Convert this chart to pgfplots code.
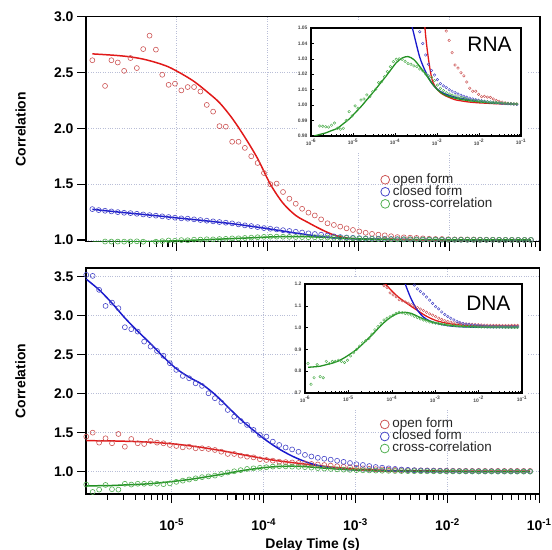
\documentclass[border=0pt]{standalone}
\usepackage{pgfplots}
\pgfplotsset{compat=1.18}
\usepackage{pgfplotstable}
\usepackage{fontspec}
\setmainfont{Liberation Sans}

\definecolor{mred}{RGB}{205,85,85}
\definecolor{mblue}{RGB}{70,70,200}
\definecolor{mgreen}{RGB}{80,175,80}
\definecolor{lred}{RGB}{225,25,25}
\definecolor{lblue}{RGB}{25,25,205}
\definecolor{lgreen}{RGB}{35,145,35}
\definecolor{gridc}{RGB}{185,190,215}

\newcommand{\tickfont}{\fontsize{14}{14}\selectfont\bfseries}
\newcommand{\labfont}{\fontsize{14}{14}\selectfont\bfseries}
\newcommand{\insetfont}{\fontsize{5}{5}\selectfont\bfseries}

% RNA data: x, open form, closed form, cross-correlation
\pgfplotstableread{
x open closed cross
1.175e-6 2.61 1.277 nan
1.380e-6 nan 1.268 nan
1.622e-6 2.38 1.262 0.9865
1.905e-6 2.61 1.256 0.9863
2.239e-6 2.59 1.250 0.986
2.630e-6 2.515 1.244 0.9858
3.090e-6 2.63 1.241 0.987
3.631e-6 2.54 1.235 0.9884
4.266e-6 2.71 1.229 0.985
5.012e-6 2.83 1.223 0.9844
5.888e-6 2.705 1.218 0.985
6.918e-6 2.48 1.212 0.990
8.128e-6 2.39 1.206 0.9958
9.550e-6 2.40 1.200 0.993
1.122e-5 2.34 1.194 0.9995
1.318e-5 2.37 1.191 0.998
1.549e-5 2.37 1.185 1.0033
1.820e-5 2.33 1.179 1.004
2.138e-5 2.21 1.173 1.0066
2.512e-5 2.15 1.167 1.0055
2.951e-5 2.02 1.161 1.0087
3.467e-5 2.015 1.155 1.0103
4.074e-5 1.88 1.149 1.0146
4.786e-5 1.88 1.140 1.0152
5.623e-5 1.825 1.131 1.0184
6.607e-5 1.75 1.125 1.0217
7.762e-5 1.69 1.116 1.025
9.120e-5 1.60 1.107 1.0282
1.072e-4 1.50 1.101 1.0297
1.259e-4 1.505 1.095 1.0300
1.479e-4 1.43 1.088 1.0297
1.738e-4 1.37 1.081 1.0284
2.042e-4 1.325 1.074 1.027
2.399e-4 1.28 1.067 1.0265
2.818e-4 1.245 1.060 1.0254
3.311e-4 1.22 1.054 1.025
3.890e-4 1.185 1.0476 1.0234
4.571e-4 1.15 1.040 1.0223
5.370e-4 1.135 1.0325 1.0202
6.310e-4 1.12 1.0265 1.019
7.413e-4 1.105 1.0225 1.018
8.710e-4 1.09 1.0195 1.0159
1.023e-3 1.077 1.0165 1.013
1.202e-3 1.065 1.014 1.0109
1.413e-3 1.055 1.0125 1.0094
1.660e-3 1.048 1.0115 1.008
1.950e-3 1.042 1.0100 1.0072
2.291e-3 1.034 1.009 1.0065
2.692e-3 1.026 1.0081 1.006
3.162e-3 1.024 1.0072 1.0053
3.715e-3 1.021 1.0064 1.005
4.365e-3 1.019 1.0057 1.0045
5.129e-3 1.015 1.0051 1.004
6.026e-3 1.011 1.0045 1.0033
7.079e-3 1.009 1.004 1.003
8.318e-3 1.009 1.0035 1.003
9.772e-3 1.007 1.0032 1.0028
1.148e-2 1.0055 1.0028 1.0025
1.349e-2 1.0057 1.0025 1.0023
1.585e-2 1.0052 1.0023 1.0022
1.862e-2 1.005 1.002 1.002
2.188e-2 1.004 1.0018 1.0018
2.570e-2 1.003 1.0016 1.0017
3.020e-2 1.0025 1.0014 1.0015
3.548e-2 1.002 1.0012 1.0014
4.169e-2 1.0015 1.001 1.0012
4.898e-2 1.0012 1.0009 1.001
5.754e-2 1.001 1.0008 1.0009
6.761e-2 1.0008 1.0006 1.0008
7.943e-2 1.0007 1.0005 1.0007
}\rna

% RNA fitted curves
\pgfplotstableread{
x open closed cross
1.175e-6 2.667 1.275 0.980
1.622e-6 2.660 1.263 0.981
2.239e-6 2.652 1.251 0.982
3.090e-6 2.640 1.240 0.9835
4.266e-6 2.620 1.229 0.985
5.888e-6 2.590 1.218 0.988
8.128e-6 2.550 1.206 0.991
1.122e-5 2.490 1.194 0.995
1.549e-5 2.420 1.183 0.999
2.138e-5 2.330 1.171 1.0035
2.951e-5 2.230 1.159 1.008
4.074e-5 2.090 1.146 1.0128
5.623e-5 1.920 1.131 1.0175
7.762e-5 1.730 1.115 1.0225
1.072e-4 1.500 1.098 1.0275
1.479e-4 1.330 1.080 1.0305
2.042e-4 1.220 1.062 1.0315
2.818e-4 1.155 1.046 1.0295
3.890e-4 1.095 1.031 1.025
5.370e-4 1.045 1.0215 1.020
7.413e-4 1.018 1.0145 1.0145
1.023e-3 1.010 1.0102 1.010
1.413e-3 1.0068 1.0078 1.0072
1.950e-3 1.005 1.0063 1.0055
2.692e-3 1.0035 1.0052 1.0045
3.715e-3 1.0028 1.0044 1.0037
5.129e-3 1.0022 1.0037 1.0031
7.079e-3 1.0018 1.003 1.0026
9.772e-3 1.0015 1.0025 1.0022
1.349e-2 1.0013 1.002 1.0018
1.862e-2 1.0011 1.0016 1.0015
2.570e-2 1.0009 1.0013 1.0013
3.548e-2 1.0008 1.0011 1.0011
4.898e-2 1.0007 1.0009 1.0009
6.761e-2 1.0006 1.0007 1.0008
7.943e-2 1.0005 1.0007 1.0007
}\rnafit

% DNA data
\pgfplotstableread{
x open closed cross
1.175e-6 1.449 3.522 0.835
1.380e-6 1.50 3.509 0.74
1.622e-6 1.372 3.33 0.77
1.905e-6 1.428 3.124 0.83
2.239e-6 1.364 3.167 0.775
2.630e-6 1.483 3.095 0.77
3.090e-6 1.32 2.851 0.845
3.631e-6 1.419 2.826 0.835
4.266e-6 1.364 2.795 0.845
5.012e-6 1.355 2.667 0.845
5.888e-6 1.393 2.603 0.85
6.918e-6 1.372 2.547 0.845
8.128e-6 1.364 2.485 0.84
9.550e-6 1.342 2.39 0.85
1.122e-5 1.329 2.304 0.87
1.318e-5 1.312 2.227 0.885
1.549e-5 1.32 2.197 0.90
1.820e-5 1.30 2.133 0.915
2.138e-5 1.30 2.099 0.93
2.512e-5 1.291 2.005 0.94
2.951e-5 1.278 1.941 0.95
3.467e-5 1.256 1.885 0.97
4.074e-5 1.227 1.791 0.99
4.786e-5 1.227 1.705 1.005
5.623e-5 1.205 1.65 1.02
6.607e-5 1.192 1.599 1.035
7.762e-5 1.184 1.535 1.043
9.120e-5 1.159 1.47 1.05
1.072e-4 1.15 1.449 1.057
1.259e-4 1.141 1.385 1.065
1.479e-4 1.128 1.342 1.07
1.738e-4 1.123 1.31 1.068
2.042e-4 1.118 1.285 1.065
2.399e-4 1.112 1.255 1.062
2.818e-4 1.105 1.215 1.058
3.311e-4 1.099 1.195 1.052
3.890e-4 1.092 1.178 1.046
4.571e-4 1.085 1.166 1.04
5.370e-4 1.078 1.154 1.035
6.310e-4 1.07 1.14 1.03
7.413e-4 1.063 1.126 1.026
8.710e-4 1.057 1.111 1.023
1.023e-3 1.05 1.096 1.02
1.202e-3 1.043 1.086 1.018
1.413e-3 1.037 1.072 1.016
1.660e-3 1.032 1.060 1.014
1.950e-3 1.028 1.051 1.012
2.291e-3 1.025 1.043 1.011
2.692e-3 1.022 1.035 1.009
3.162e-3 1.02 1.028 1.008
3.715e-3 1.019 1.023 1.007
4.365e-3 1.018 1.019 1.006
5.129e-3 1.017 1.016 1.0055
6.026e-3 1.016 1.014 1.005
7.079e-3 1.015 1.012 1.0045
8.318e-3 1.014 1.011 1.004
9.772e-3 1.013 1.009 1.0035
1.148e-2 1.012 1.008 1.003
1.349e-2 1.011 1.007 1.003
1.585e-2 1.011 1.0065 1.0025
1.862e-2 1.0105 1.006 1.0025
2.188e-2 1.01 1.0055 1.002
2.570e-2 1.01 1.005 1.002
3.020e-2 1.01 1.005 1.002
3.548e-2 1.01 1.0045 1.0015
4.169e-2 1.01 1.0045 1.0015
4.898e-2 1.01 1.004 1.0015
5.754e-2 1.01 1.004 1.001
6.761e-2 1.01 1.004 1.001
7.943e-2 1.01 1.004 1.001
}\dna

% DNA fitted curves
\pgfplotstableread{
x open closed cross
1.175e-6 1.397 3.467 0.818
1.622e-6 1.396 3.33 0.820
2.239e-6 1.394 3.16 0.823
3.090e-6 1.390 2.97 0.830
4.266e-6 1.385 2.80 0.837
5.888e-6 1.378 2.64 0.847
8.128e-6 1.367 2.47 0.862
1.122e-5 1.352 2.32 0.880
1.549e-5 1.333 2.21 0.900
2.138e-5 1.310 2.12 0.925
2.951e-5 1.283 1.99 0.952
4.074e-5 1.255 1.83 0.980
5.623e-5 1.222 1.67 1.010
7.762e-5 1.192 1.53 1.035
1.072e-4 1.162 1.40 1.055
1.479e-4 1.137 1.29 1.067
2.042e-4 1.117 1.20 1.070
2.818e-4 1.097 1.13 1.065
3.890e-4 1.079 1.08 1.052
5.370e-4 1.060 1.048 1.040
7.413e-4 1.045 1.031 1.030
1.023e-3 1.033 1.021 1.022
1.413e-3 1.025 1.014 1.016
1.950e-3 1.019 1.009 1.011
2.692e-3 1.015 1.006 1.008
3.715e-3 1.012 1.004 1.006
5.129e-3 1.010 1.003 1.005
7.079e-3 1.009 1.002 1.004
9.772e-3 1.008 1.0015 1.003
1.349e-2 1.0078 1.0012 1.0025
1.862e-2 1.0075 1.001 1.002
2.570e-2 1.0073 1.0008 1.0015
3.548e-2 1.0072 1.0007 1.0012
4.898e-2 1.0071 1.0006 1.001
6.761e-2 1.007 1.0005 1.001
7.943e-2 1.007 1.0005 1.001
}\dnafit

\begin{document}
\begin{tikzpicture}
\useasboundingbox (0,0) rectangle (552bp,550bp);

% ---------------- top (RNA) ----------------
\begin{axis}[
  xmode=log,
  scale only axis,
  at={(86bp,308.3bp)}, anchor=south west,
  width=454bp, height=225bp,
  xmin=1e-6, xmax=1e-1, ymin=0.985, ymax=3.0,
  axis line style={line width=1.5pt},
  tick style={black, line width=1.1pt},
  major tick length=9bp, minor tick length=5.5bp,
  tick align=outside,
  xtick pos=left, ytick pos=left,
  xtick={1e-5,1e-4,1e-3,1e-2,1e-1},
  minor xtick={2e-6,3e-6,4e-6,5e-6,6e-6,7e-6,8e-6,9e-6,2e-5,3e-5,4e-5,5e-5,6e-5,7e-5,8e-5,9e-5,2e-4,3e-4,4e-4,5e-4,6e-4,7e-4,8e-4,9e-4,2e-3,3e-3,4e-3,5e-3,6e-3,7e-3,8e-3,9e-3,2e-2,3e-2,4e-2,5e-2,6e-2,7e-2,8e-2,9e-2},
  xticklabels={},
  ytick={1.0,1.5,2.0,2.5,3.0},
  yticklabels={1.0,1.5,2.0,2.5,3.0},
  xmajorgrids=true, ymajorgrids=true,
  major grid style={gridc, dotted, line width=0.7pt},
  tick label style={font=\tickfont},
  ylabel={Correlation},
  every axis y label/.style={at={(axis description cs:-0.144,0.5)}, rotate=90, anchor=center, font=\labfont},
  legend style={at={(0.649,0.303)}, anchor=north west, draw=none, fill=none, inner sep=0pt, row sep=0pt,
    font=\fontsize{13.5}{13.5}\selectfont, text=black!85,
    nodes={inner sep=0.3pt, text height=9.2pt, text depth=2.3pt},
    /tikz/every odd column/.append style={column sep=3pt}},
  legend cell align=left,
]
\addplot[only marks, mark=o, mark size=2.5pt, mark options={line width=0.6pt}, mred, forget plot] table[x=x,y=open]{\rna};
\addplot[only marks, mark=o, mark size=2.5pt, mark options={line width=0.6pt}, mblue, forget plot] table[x=x,y=closed]{\rna};
\addplot[only marks, mark=o, mark size=2.5pt, mark options={line width=0.6pt}, mgreen, forget plot] table[x=x,y=cross]{\rna};
\addplot[smooth, line width=1.5pt, lred, forget plot] table[x=x,y=open]{\rnafit};
\addplot[smooth, line width=1.5pt, lblue, forget plot] table[x=x,y=closed]{\rnafit};
\addplot[smooth, line width=1.5pt, lgreen, forget plot] table[x=x,y=cross]{\rnafit};
\addlegendimage{only marks, mark=o, mark size=4.4pt, mark options={line width=0.8pt}, mred}
\addlegendentry{open form}
\addlegendimage{only marks, mark=o, mark size=4.4pt, mark options={line width=0.8pt}, mblue}
\addlegendentry{closed form}
\addlegendimage{only marks, mark=o, mark size=4.4pt, mark options={line width=0.8pt}, mgreen}
\addlegendentry{cross-correlation}
\end{axis}

\fill[white] (297bp,398bp) rectangle (528bp,530bp);

\begin{axis}[
  xmode=log,
  scale only axis,
  at={(311bp,414bp)}, anchor=south west,
  width=210bp, height=108bp,
  xmin=1e-6, xmax=1e-1, ymin=0.98, ymax=1.05,
  axis background/.style={fill=white},
  axis line style={line width=1.2pt},
  tick style={black, line width=0.5pt},
  major tick length=3bp, minor tick length=2bp,
  tick align=inside,
  xtick pos=left, ytick pos=left,
  xtick={1e-6,1e-5,1e-4,1e-3,1e-2,1e-1},
  xticklabels={10\textsuperscript{-6},10\textsuperscript{-5},10\textsuperscript{-4},10\textsuperscript{-3},10\textsuperscript{-2},10\textsuperscript{-1}},
  minor xtick={2e-6,3e-6,4e-6,5e-6,6e-6,7e-6,8e-6,9e-6,2e-5,3e-5,4e-5,5e-5,6e-5,7e-5,8e-5,9e-5,2e-4,3e-4,4e-4,5e-4,6e-4,7e-4,8e-4,9e-4,2e-3,3e-3,4e-3,5e-3,6e-3,7e-3,8e-3,9e-3,2e-2,3e-2,4e-2,5e-2,6e-2,7e-2,8e-2,9e-2},
  ytick={0.98,0.99,1.00,1.01,1.02,1.03,1.04,1.05},
  yticklabels={0.98,0.99,1.00,1.01,1.02,1.03,1.04,1.05},
  tick label style={font=\insetfont, text=black!70},
]
\addplot[only marks, mark=o, mark size=1.3pt, mark options={line width=0.45pt}, mred] table[x=x,y=open]{\rna};
\addplot[only marks, mark=o, mark size=1.3pt, mark options={line width=0.45pt}, mblue] table[x=x,y=closed]{\rna};
\addplot[only marks, mark=o, mark size=1.3pt, mark options={line width=0.45pt}, mgreen] table[x=x,y=cross]{\rna};
\addplot[smooth, line width=1.3pt, lred] table[x=x,y=open]{\rnafit};
\addplot[smooth, line width=1.3pt, lblue] table[x=x,y=closed]{\rnafit};
\addplot[smooth, line width=1.3pt, lgreen] table[x=x,y=cross]{\rnafit};
\node[anchor=base east, font=\fontsize{21}{21}\selectfont] at (rel axis cs:0.972,0.778) {RNA};
\end{axis}

% ---------------- bottom (DNA) ----------------
\begin{axis}[
  xmode=log,
  scale only axis,
  at={(86bp,56bp)}, anchor=south west,
  width=453.3bp, height=226bp,
  xmin=1.167e-6, xmax=1e-1, ymin=0.714, ymax=3.61,
  axis line style={line width=1.5pt},
  tick style={black, line width=1.1pt},
  major tick length=9bp, minor tick length=5.5bp,
  tick align=outside,
  xtick pos=left, ytick pos=left,
  xtick={1e-5,1e-4,1e-3,1e-2,1e-1},
  minor xtick={2e-6,3e-6,4e-6,5e-6,6e-6,7e-6,8e-6,9e-6,2e-5,3e-5,4e-5,5e-5,6e-5,7e-5,8e-5,9e-5,2e-4,3e-4,4e-4,5e-4,6e-4,7e-4,8e-4,9e-4,2e-3,3e-3,4e-3,5e-3,6e-3,7e-3,8e-3,9e-3,2e-2,3e-2,4e-2,5e-2,6e-2,7e-2,8e-2,9e-2},
  xticklabels={10\textsuperscript{-5},10\textsuperscript{-4},10\textsuperscript{-3},10\textsuperscript{-2},10\textsuperscript{-1}},
  xticklabel style={yshift=-12bp},
  ytick={1.0,1.5,2.0,2.5,3.0,3.5},
  yticklabels={1.0,1.5,2.0,2.5,3.0,3.5},
  xmajorgrids=true, ymajorgrids=true,
  major grid style={gridc, dotted, line width=0.7pt},
  tick label style={font=\tickfont},
  ylabel={Correlation},
  every axis y label/.style={at={(axis description cs:-0.1445,0.5)}, rotate=90, anchor=center, font=\labfont},
  xlabel={Delay Time (s)},
  every axis x label/.style={at={(axis description cs:0.5,-0.240)}, anchor=base, font=\labfont},
  legend style={at={(0.649,0.3354)}, anchor=north west, draw=none, fill=none, inner sep=0pt, row sep=0pt,
    font=\fontsize{13.5}{13.5}\selectfont, text=black!85,
    nodes={inner sep=0.3pt, text height=9.2pt, text depth=2.3pt},
    /tikz/every odd column/.append style={column sep=3pt}},
  legend cell align=left,
]
\addplot[only marks, mark=o, mark size=2.5pt, mark options={line width=0.6pt}, mred, forget plot] table[x=x,y=open]{\dna};
\addplot[only marks, mark=o, mark size=2.5pt, mark options={line width=0.6pt}, mblue, forget plot] table[x=x,y=closed]{\dna};
\addplot[only marks, mark=o, mark size=2.5pt, mark options={line width=0.6pt}, mgreen, forget plot] table[x=x,y=cross]{\dna};
\addplot[smooth, line width=1.5pt, lred, forget plot] table[x=x,y=open]{\dnafit};
\addplot[smooth, line width=1.5pt, lblue, forget plot] table[x=x,y=closed]{\dnafit};
\addplot[smooth, line width=1.5pt, lgreen, forget plot] table[x=x,y=cross]{\dnafit};
\addlegendimage{only marks, mark=o, mark size=4.4pt, mark options={line width=0.8pt}, mred}
\addlegendentry{open form}
\addlegendimage{only marks, mark=o, mark size=4.4pt, mark options={line width=0.8pt}, mblue}
\addlegendentry{closed form}
\addlegendimage{only marks, mark=o, mark size=4.4pt, mark options={line width=0.8pt}, mgreen}
\addlegendentry{cross-correlation}
\end{axis}

\fill[white] (298bp,141bp) rectangle (528bp,272bp);

\begin{axis}[
  xmode=log,
  scale only axis,
  at={(305bp,157bp)}, anchor=south west,
  width=217bp, height=109bp,
  xmin=1e-6, xmax=1e-1, ymin=0.7, ymax=1.2,
  axis background/.style={fill=white},
  axis line style={line width=1.2pt},
  tick style={black, line width=0.5pt},
  major tick length=3bp, minor tick length=2bp,
  tick align=inside,
  xtick pos=left, ytick pos=left,
  xtick={1e-6,1e-5,1e-4,1e-3,1e-2,1e-1},
  xticklabels={10\textsuperscript{-6},10\textsuperscript{-5},10\textsuperscript{-4},10\textsuperscript{-3},10\textsuperscript{-2},10\textsuperscript{-1}},
  minor xtick={2e-6,3e-6,4e-6,5e-6,6e-6,7e-6,8e-6,9e-6,2e-5,3e-5,4e-5,5e-5,6e-5,7e-5,8e-5,9e-5,2e-4,3e-4,4e-4,5e-4,6e-4,7e-4,8e-4,9e-4,2e-3,3e-3,4e-3,5e-3,6e-3,7e-3,8e-3,9e-3,2e-2,3e-2,4e-2,5e-2,6e-2,7e-2,8e-2,9e-2},
  ytick={0.7,0.8,0.9,1.0,1.1,1.2},
  yticklabels={0.7,0.8,0.9,1.0,1.1,1.2},
  tick label style={font=\insetfont, text=black!70},
]
\addplot[only marks, mark=o, mark size=1.3pt, mark options={line width=0.45pt}, mred] table[x=x,y=open]{\dna};
\addplot[only marks, mark=o, mark size=1.3pt, mark options={line width=0.45pt}, mblue] table[x=x,y=closed]{\dna};
\addplot[only marks, mark=o, mark size=1.3pt, mark options={line width=0.45pt}, mgreen] table[x=x,y=cross]{\dna};
\addplot[smooth, line width=1.3pt, lred] table[x=x,y=open]{\dnafit};
\addplot[smooth, line width=1.3pt, lblue] table[x=x,y=closed]{\dnafit};
\addplot[smooth, line width=1.3pt, lgreen] table[x=x,y=cross]{\dnafit};
\node[anchor=base east, font=\fontsize{21}{21}\selectfont] at (rel axis cs:0.963,0.759) {DNA};
\end{axis}
\end{tikzpicture}
\end{document}
